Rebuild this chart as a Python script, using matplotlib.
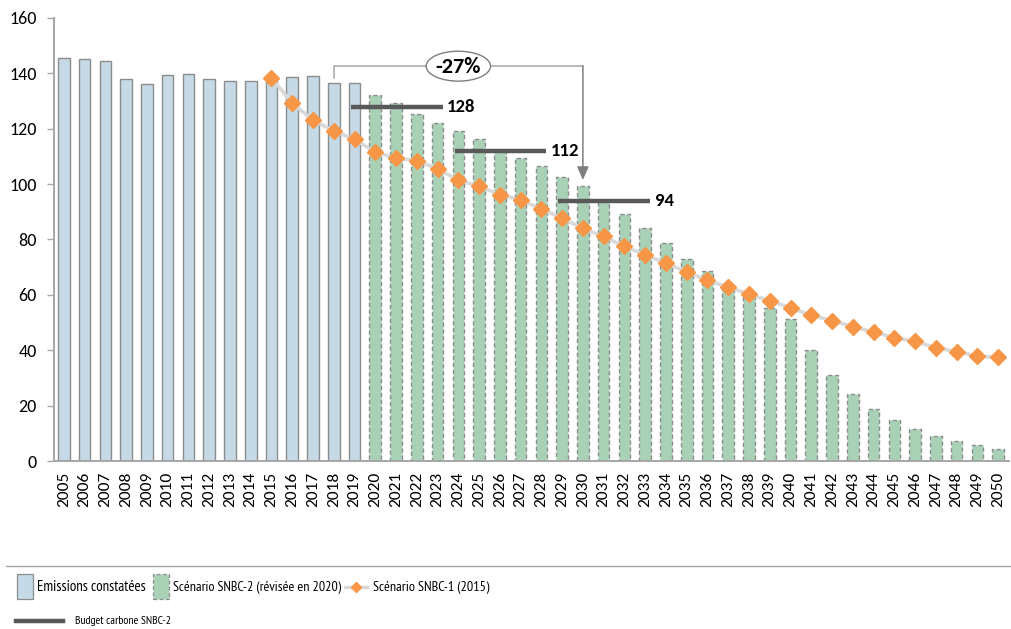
import matplotlib
matplotlib.use("Agg")
import matplotlib.pyplot as plt
from matplotlib.patches import Rectangle, Ellipse
from matplotlib.lines import Line2D
from matplotlib import font_manager

# Emissions (MtCO2e) -------------------------------------------------------
years = list(range(2005, 2051))
observed_years = list(range(2005, 2020))
observed = [145.5, 145.2, 144.4, 137.8, 136.2, 139.4, 139.9, 137.8, 137.3,
            137.3, 138.4, 138.8, 138.9, 136.4, 136.4]
snbc2_years = list(range(2020, 2051))
snbc2 = [132.2, 129.3, 125.3, 122.2, 119.2, 116.2, 112.2, 109.4, 106.5, 102.5,
         99.3, 94.1, 89.2, 84.0, 78.6, 72.9, 68.5, 63.4, 59.1, 55.2,
         51.2, 40.1, 30.9, 24.3, 18.7, 14.7, 11.6, 9.1, 7.1, 5.7,
         4.4]
snbc1_years = list(range(2015, 2051))
snbc1 = [138.4, 129.2, 123.1, 119.2, 116.2, 111.5, 109.4, 108.5, 105.5, 101.4,
         99.2, 96.2, 94.3, 91.0, 87.7, 84.0, 81.1, 77.5, 74.5, 71.4,
         68.4, 65.2, 62.8, 60.3, 57.8, 55.4, 52.6, 50.7, 48.5, 46.6,
         44.5, 43.2, 40.9, 39.5, 37.9, 37.4]

# Carbon budgets of SNBC-2: (first year, last year, value)
budget_start = [2019, 2024, 2029]
budget_end = [2023, 2028, 2033]
budget_value = [128, 112, 94]

# Reduction annotation between 2018 and 2030
change_label = "-27%"
change_from, change_to = 2018, 2030

legend_labels = ["Emissions constatées", "Scénario SNBC-2 (révisée en 2020)",
                 "Scénario SNBC-1 (2015)", "Budget carbone SNBC-2"]

names = {f.name for f in font_manager.fontManager.ttflist}


def pick(candidates, default="DejaVu Sans"):
    for c in candidates:
        if c in names:
            return c
    return default


base_font = pick(["Carlito", "Lato"])
narrow_font = pick(["PT Sans Narrow", "Archivo Narrow", "Asap Condensed",
                    "Fira Sans Extra Condensed", "Barlow Condensed",
                    "Roboto Condensed", "IBM Plex Sans Condensed",
                    "Open Sans Condensed"], base_font)
plt.rcParams["font.family"] = [base_font, "DejaVu Sans"]

BLUE = "#c5dae6"
GREEN = "#a8d1b6"
ORANGE = "#f79646"
EDGE = "#8c8c8c"
SPINE = "#a6a6a6"
BUDGET = "#595959"

W, H = 1011, 629
fig = plt.figure(figsize=(W / 100, H / 100), dpi=100)
ax = fig.add_axes([53.5 / W, 1 - 461 / H, (1008.5 - 53.5) / W, (461 - 18) / H])


def idx(y):
    return y - years[0]


bw = 0.56
ax.bar([idx(y) for y in observed_years], observed, width=bw, color=BLUE,
       edgecolor=EDGE, linewidth=1.0, zorder=2)
ax.bar([idx(y) for y in snbc2_years], snbc2, width=bw, color=GREEN,
       edgecolor=EDGE, linewidth=1.0, linestyle=(0, (3, 2)), zorder=2)

ax.plot([idx(y) for y in snbc1_years], snbc1, color="#d9d9d9", lw=2.6,
        zorder=3, solid_capstyle="round")
ax.plot([idx(y) for y in snbc1_years], snbc1, linestyle="none", marker="D",
        ms=8, color=ORANGE, mec=ORANGE, zorder=4)

for s, e, v in zip(budget_start, budget_end, budget_value):
    ax.plot([idx(s) - 0.18, idx(e) + 0.24], [v, v], color=BUDGET, lw=3.2,
            solid_capstyle="butt", zorder=5)
    ax.text(idx(e) + 0.45, v, str(v), ha="left", va="center", fontsize=13.5,
            fontweight="bold", color="black", zorder=6)

# bracket with arrow from 2018 to 2030
i0, i1 = idx(change_from), idx(change_to)
y_top = 142.6
y_from = observed[observed_years.index(change_from)] + 1.8
y_to = snbc2[snbc2_years.index(change_to)] + 2.2
ax.plot([i0, i0, i1], [y_from, y_top, y_top], color="#a6a6a6", lw=1.1,
        zorder=5, solid_joinstyle="miter")
ax.annotate("", xy=(i1, y_to), xytext=(i1, y_top + 0.05),
            arrowprops=dict(arrowstyle="-|>,head_length=0.8,head_width=0.35",
                            color="#7f7f7f", lw=1.1, shrinkA=0, shrinkB=0),
            zorder=5)
ax.add_patch(Ellipse(((i0 + i1) / 2, y_top), 3.1, 10.8,
                     facecolor="white", edgecolor="#7f7f7f", lw=1.0, zorder=6))
ax.text((i0 + i1) / 2, y_top - 0.2, change_label, ha="center", va="center",
        fontsize=16, fontweight="bold", color="black", zorder=7)

ax.set_xlim(-0.5, len(years) - 0.5)
ax.set_ylim(0, 160)
ax.set_yticks(range(0, 161, 20))
ax.set_xticks(range(len(years)))
ax.set_xticklabels([str(y) for y in years], rotation=90, fontsize=12.5)
ax.tick_params(axis="x", length=0, pad=8, colors="black")
ax.tick_params(axis="y", length=5, width=1, color=SPINE, pad=7, labelsize=13)
for side in ("top", "right"):
    ax.spines[side].set_visible(False)
for side in ("left", "bottom"):
    ax.spines[side].set_color(SPINE)
    ax.spines[side].set_linewidth(1.4)


# legend block below the plot --------------------------------------------
def fx(px):
    return px / W


def fy(py):
    return 1 - py / H


fig.add_artist(Line2D([fx(6), fx(1011)], [fy(566), fy(566)], color="#a6a6a6",
                      lw=1.0, transform=fig.transFigure))

legend_font = dict(family=[narrow_font, "DejaVu Sans"], ha="left", va="center")
row1 = fy(587)
row2 = fy(621)
fig.add_artist(Rectangle((fx(17), fy(599)), 16 / W, 25 / H, facecolor=BLUE,
                         edgecolor=EDGE, lw=0.9, transform=fig.transFigure))
fig.add_artist(Rectangle((fx(153), fy(599)), 16 / W, 25 / H, facecolor=GREEN,
                         edgecolor=EDGE, lw=0.9, linestyle=(0, (3, 2)),
                         transform=fig.transFigure))
fig.add_artist(Line2D([fx(345), fx(367)], [row1, row1], color="#d9d9d9", lw=2.5,
                      transform=fig.transFigure))
fig.add_artist(Line2D([fx(356)], [row1], color=ORANGE, marker="D", ms=5,
                      linestyle="none", transform=fig.transFigure))
fig.add_artist(Line2D([fx(16), fx(63)], [row2, row2], color=BUDGET, lw=3.2,
                      transform=fig.transFigure))

# label positions (left edge, row) and the width each label may occupy, px
legend_x = [37, 173, 373, 75]
legend_row = [row1, row1, row1, row2]
legend_width = [108, 166, 116, 96]
legend_size = [13, 13, 13, 10]
texts = [fig.text(fx(x), r, lab, fontsize=fs, **legend_font)
         for x, r, lab, fs in zip(legend_x, legend_row, legend_labels, legend_size)]
fig.canvas.draw()
renderer = fig.canvas.get_renderer()
for t, target, fs in zip(texts, legend_width, legend_size):
    w = t.get_window_extent(renderer).width
    if w > target:
        t.set_fontsize(fs * target / w)

fig.savefig("out.png", dpi=100)
